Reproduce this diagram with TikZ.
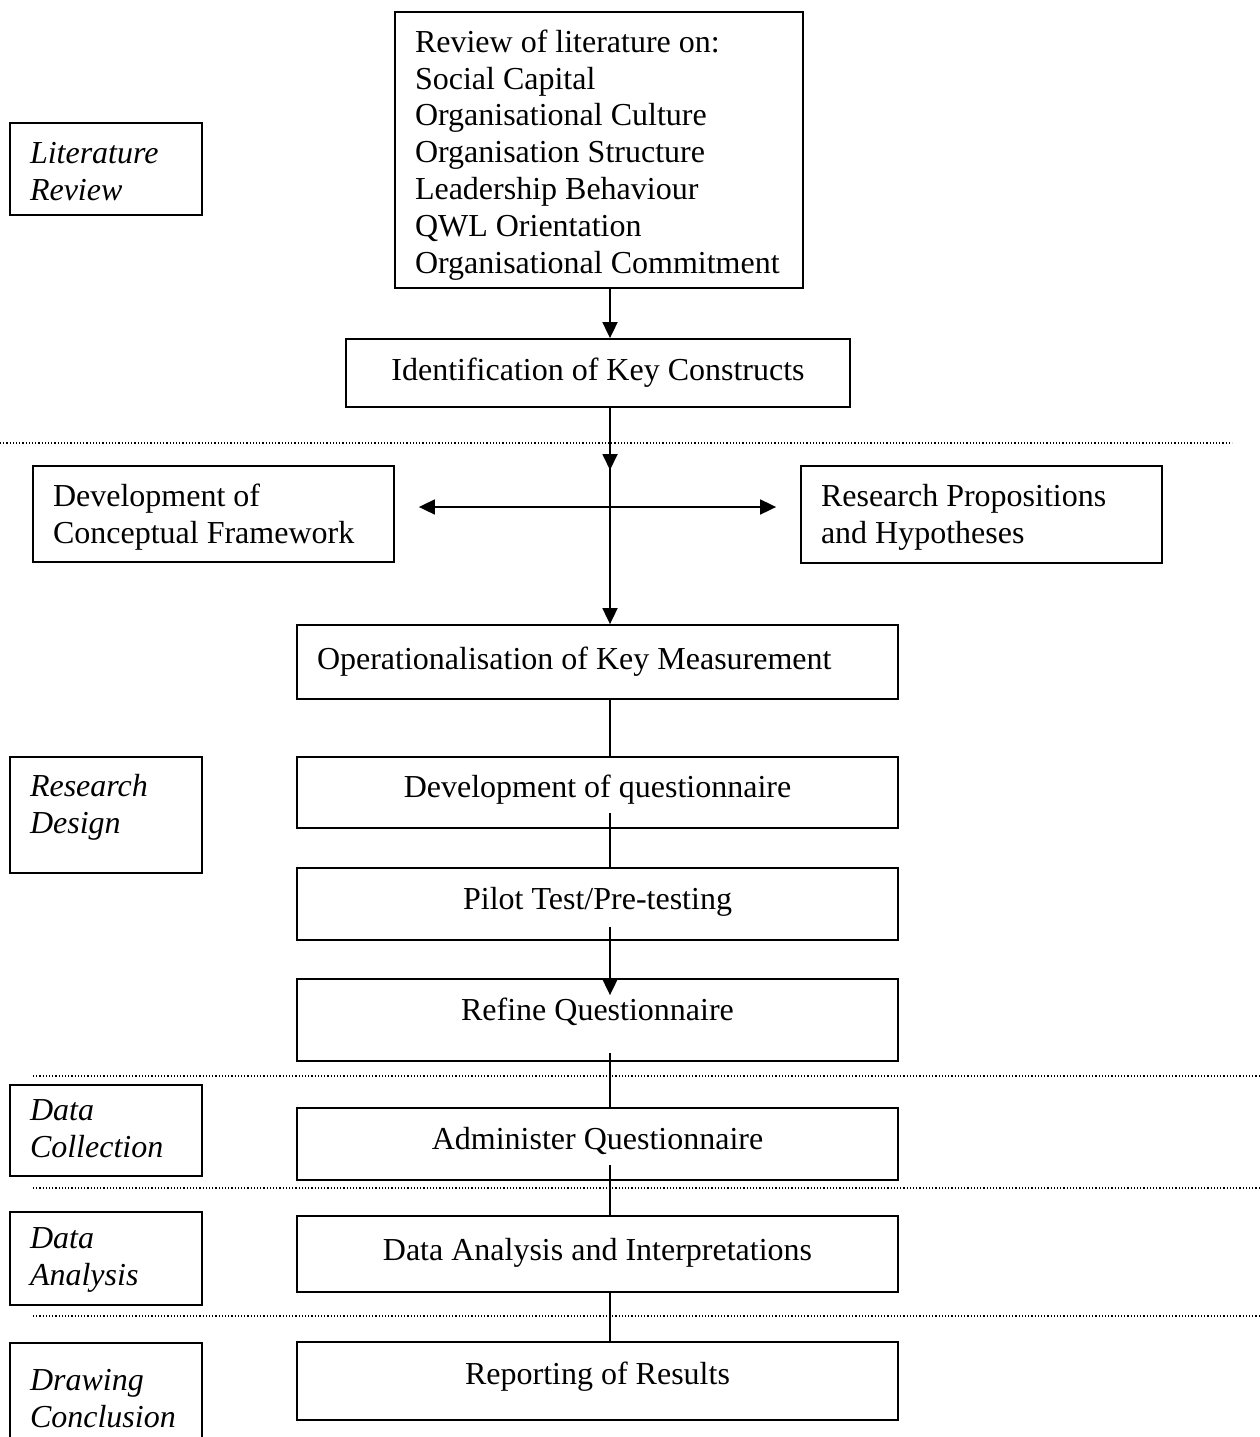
\documentclass[tikz,border=0pt]{standalone}
\usepackage{fontspec}
\setmainfont{Liberation Serif}
\usetikzlibrary{positioning, calc, arrows.meta}
\newcommand\wordgap{\spaceskip=0.25em plus 0.1em\relax}

\begin{document}
\begin{tikzpicture}[x=1pt, y=-1pt,
    box/.style={draw, line width=1.8pt, font=\fontsize{32}{36.8}\selectfont,
        inner xsep=20pt, inner ysep=0pt, text height=22.4pt, text depth=7.4pt,
        execute at begin node=\wordgap},
    stage/.style={box, align=left, text width=#1, font=\fontsize{32}{36.8}\selectfont\itshape},
    lift/.style={text depth=#1},
    arr/.style={-{Triangle[length=16pt,width=15pt]}, line width=1.8pt},
    link/.style={line width=1.8pt},
    sep/.style={line width=1.2pt, dash pattern=on 1.2pt off 2pt}]

    \useasboundingbox (0,0) rectangle (1259,1437);

    % Phase separators
    \draw[sep] (0,443) -- (1232,443);
    \draw[sep] (33,1076) -- (1259,1076);
    \draw[sep] (33,1188) -- (1259,1188);
    \draw[sep] (33,1316) -- (1259,1316);

    % Stage labels (left column)
    \node[stage=152pt, minimum width=192pt, minimum height=92pt, lift=34pt] (litrev) at (106,169) {Literature\\Review};
    \node[stage=152pt, minimum width=192pt, minimum height=116pt, lift=59pt] (resdes) at (106,815) {Research\\Design};
    \node[stage=152pt, minimum width=192pt, minimum height=91pt, lift=42pt] (datcol) at (106,1130.5) {Data\\Collection};
    \node[stage=152pt, minimum width=192pt, minimum height=93pt, lift=43pt] (datana) at (106,1258.5) {Data\\Analysis};
    \node[stage=152pt, minimum width=192pt, minimum height=110pt, lift=38pt] (drawcon) at (106,1398) {Drawing\\Conclusion};

    % Process boxes
    \node[box, align=left, text width=368pt, minimum height=276pt, lift=218pt] (review) at (599,150)
        {Review of literature on:\\Social Capital\\Organisational Culture\\Organisation Structure\\Leadership Behaviour\\QWL Orientation\\Organisational Commitment};
    \node[box, minimum width=504pt, minimum height=68pt] (ident) at (598,373) {Identification of Key Constructs};
    \node[box, align=left, text width=321pt, minimum height=96pt, lift=38pt] (concept) at (213.5,514) {Development of\\Conceptual Framework};
    \node[box, align=left, text width=321pt, minimum height=97pt, lift=38pt] (hypo) at (981.5,514.5) {Research Propositions\\and Hypotheses};
    \node[box, align=left, text width=561pt, minimum height=74pt] (oper) at (597.5,662) {Operationalisation of Key Measurement};
    \node[box, minimum width=601pt, minimum height=71pt, lift=12.2pt] (devq) at (597.5,792.5) {Development of questionnaire};
    \node[box, minimum width=601pt, minimum height=72pt, lift=12.2pt] (pilot) at (597.5,904) {Pilot Test/Pre-testing};
    \node[box, minimum width=601pt, minimum height=82pt, lift=22.2pt] (refine) at (597.5,1020) {Refine Questionnaire};
    \node[box, minimum width=601pt, minimum height=72pt, lift=11.2pt] (admin) at (597.5,1144) {Administer Questionnaire};
    \node[box, minimum width=601pt, minimum height=76pt, lift=10pt] (anal) at (597.5,1254) {Data Analysis and Interpretations};
    \node[box, minimum width=601pt, minimum height=78pt, lift=15pt] (report) at (597.5,1381) {Reporting of Results};

    % Connectors
    \coordinate (spine) at (610,0);
    \coordinate (hub) at (610,507);
    \draw[arr] (review.south -| spine) -- (ident.north -| spine);
    \draw[arr, shorten >=37pt] (ident.south -| spine) -- (hub);
    \draw[arr] (ident.south -| spine) -- (oper.north -| spine);
    \draw[arr, shorten >=24pt] (hub) -- (concept.east |- hub);
    \draw[arr, shorten >=24pt] (hub) -- (hypo.west |- hub);
    \draw[link] (oper.south -| spine) -- (devq.north -| spine);
    \draw[link] ($(devq.south -| spine)+(0,-16)$) -- (pilot.north -| spine);
    \draw[arr] ($(pilot.south -| spine)+(0,-14)$) -- ($(refine.north -| spine)+(0,17)$);
    \draw[link] ($(refine.south -| spine)+(0,-9)$) -- (admin.north -| spine);
    \draw[link] ($(admin.south -| spine)+(0,-16)$) -- (anal.north -| spine);
    \draw[link] (anal.south -| spine) -- (report.north -| spine);

\end{tikzpicture}
\end{document}
